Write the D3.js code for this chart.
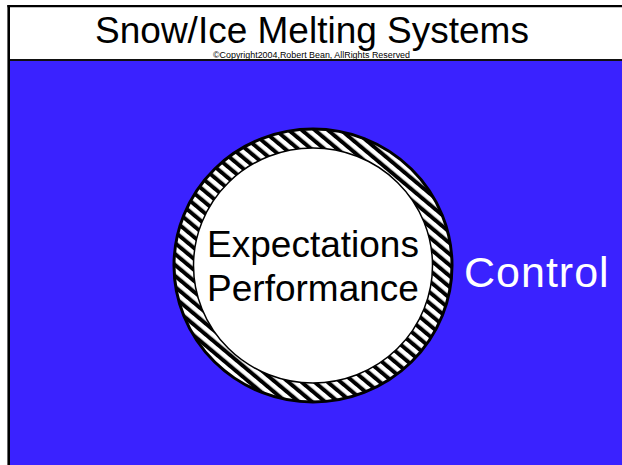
<!DOCTYPE html>
<html lang="en">
<head>
	<meta charset="utf-8">
	<title>Snow/Ice Melting Systems</title>
	<style>
		body {
			margin: 0;
			background-color: #ffffff;
		}
		svg text {
			font-family: "Liberation Sans", Arial, sans-serif;
		}
	</style>
</head>
<body>
	<div id="chart"></div>

	<script src="https://d3js.org/d3.v7.min.js"></script>
	<script>
		var
			width = 622,
			height = 465;

		// texts of the slide
		var titleText = ["Snow/Ice Melting Systems"];
		var copyrightText = ["\u00a9Copyright2004,Robert Bean, AllRights Reserved"];
		var innerLabels = ["Expectations", "Performance"];
		var outerLabels = ["Control"];

		var blue = "#3a22ff";

		var svg = d3.select("#chart")
			.append("svg")
			.attr("width", width)
			.attr("height", height);

		// diagonal hatch for the ring
		var defs = svg.append("defs");
		var hatch = defs.append("pattern")
			.attr("id", "hatch")
			.attr("patternUnits", "userSpaceOnUse")
			.attr("width", 8.4)
			.attr("height", 8.4)
			.attr("patternTransform", "rotate(-50)");
		hatch.append("rect")
			.attr("width", 8.4)
			.attr("height", 8.4)
			.attr("fill", "#fff");
		hatch.append("rect")
			.attr("width", 4)
			.attr("height", 8.4)
			.attr("fill", "#000");

		// blue panel
		svg.append("rect")
			.attr("x", 10)
			.attr("y", 61)
			.attr("width", width - 10)
			.attr("height", height - 61)
			.attr("fill", blue);

		// frame lines
		svg.append("line")
			.attr("x1", 8.7).attr("x2", 8.7)
			.attr("y1", 5).attr("y2", height)
			.attr("stroke", "#000")
			.attr("stroke-width", 2.6);
		svg.append("line")
			.attr("x1", 7.4).attr("x2", width)
			.attr("y1", 6.1).attr("y2", 6.1)
			.attr("stroke", "#000")
			.attr("stroke-width", 2.4);
		svg.append("line")
			.attr("x1", 10).attr("x2", width)
			.attr("y1", 60).attr("y2", 60)
			.attr("stroke", "#111")
			.attr("stroke-width", 2);

		// title
		svg.selectAll(".title")
			.data(titleText)
			.enter().append("text")
			.attr("class", "title")
			.attr("x", 312)
			.attr("y", 43)
			.attr("text-anchor", "middle")
			.attr("font-size", 37)
			.attr("fill", "#000")
			.text(function(d) { return d; });

		svg.selectAll(".copyright")
			.data(copyrightText)
			.enter().append("text")
			.attr("class", "copyright")
			.attr("x", 213)
			.attr("y", 57.5)
			.attr("font-size", 8.5)
			.attr("textLength", 197)
			.attr("lengthAdjust", "spacingAndGlyphs")
			.attr("fill", "#000")
			.text(function(d) { return d; });

		// ring
		var cx = 313, cy = 265.5;
		svg.append("ellipse")
			.attr("cx", cx).attr("cy", cy)
			.attr("rx", 139).attr("ry", 136.5)
			.attr("fill", "url(#hatch)")
			.attr("stroke", "#000")
			.attr("stroke-width", 3);
		svg.append("ellipse")
			.attr("cx", cx).attr("cy", cy)
			.attr("rx", 119.5).attr("ry", 117.5)
			.attr("fill", "#fff")
			.attr("stroke", "#000")
			.attr("stroke-width", 1.5);

		// labels
		var lineY = d3.scaleBand()
			.domain(innerLabels)
			.range([220, 308]);

		svg.selectAll(".inner")
			.data(innerLabels)
			.enter().append("text")
			.attr("class", "inner")
			.attr("x", 313)
			.attr("y", function(d) { return lineY(d) + lineY.bandwidth() - 7; })
			.attr("text-anchor", "middle")
			.attr("font-size", 37)
			.attr("fill", "#000")
			.text(function(d) { return d; });

		svg.selectAll(".outer")
			.data(outerLabels)
			.enter().append("text")
			.attr("class", "outer")
			.attr("x", 464)
			.attr("y", 287)
			.attr("font-size", 43)
			.attr("letter-spacing", 1)
			.attr("fill", "#fff")
			.text(function(d) { return d; });
	</script>
</body>
</html>
